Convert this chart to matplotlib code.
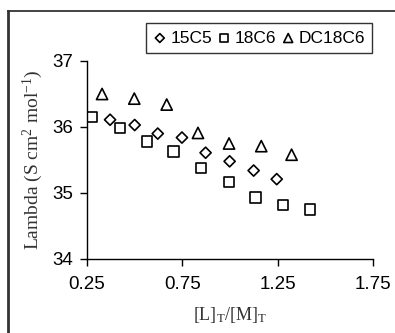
import matplotlib
matplotlib.use("Agg")
import matplotlib.pyplot as plt
from matplotlib.lines import Line2D

x_15c5 = [0.371, 0.500, 0.621, 0.748, 0.872, 0.998, 1.124, 1.245]
y_15c5 = [36.11, 36.03, 35.90, 35.84, 35.61, 35.48, 35.34, 35.21]
x_18c6 = [0.278, 0.423, 0.565, 0.703, 0.849, 0.993, 1.133, 1.278, 1.418]
y_18c6 = [36.15, 35.98, 35.78, 35.63, 35.38, 35.17, 34.93, 34.82, 34.75]
x_dc = [0.329, 0.498, 0.668, 0.832, 0.995, 1.164, 1.323]
y_dc = [36.50, 36.43, 36.34, 35.91, 35.75, 35.71, 35.58]
xticks = [0.25, 0.75, 1.25, 1.75]
xticklabels = ["0.25", "0.75", "1.25", "1.75"]
yticks = [34, 35, 36, 37]

plt.rcParams['font.family'] = ['Liberation Sans', 'DejaVu Sans']
plt.rcParams['mathtext.fontset'] = 'custom'
plt.rcParams['mathtext.rm'] = 'Liberation Serif'
plt.rcParams['mathtext.it'] = 'Liberation Serif:italic'
plt.rcParams['mathtext.bf'] = 'Liberation Serif:bold'

fig = plt.figure(figsize=(3.95, 3.33), dpi=100)
ax = fig.add_axes([87/395, 1-259/333, (373-87)/395, (259-61)/333])

kw = dict(facecolor='none', edgecolors='black', linewidths=1.2, zorder=3)
h1 = ax.scatter(x_15c5, y_15c5, marker='D', s=32, label='15C5', **kw)
h2 = ax.scatter(x_18c6, y_18c6, marker='s', s=55, label='18C6', **kw)
h3 = ax.scatter(x_dc, y_dc, marker='^', s=65, label='DC18C6', **kw)

ax.set_xlim(0.25, 1.75)
ax.set_ylim(34, 37)
ax.set_xticks(xticks)
ax.set_xticklabels(xticklabels)
ax.set_yticks(yticks)
ax.tick_params(direction='out', length=5, width=1, labelsize=13.5, pad=5, colors='black')
ax.tick_params(axis='x', pad=7)
for s in ['top', 'right']:
    ax.spines[s].set_visible(False)
for s in ['left', 'bottom']:
    ax.spines[s].set_linewidth(1)

ax.set_ylabel(r'Lambda (S cm$^{2}$ mol$^{\mathrm{-1}}$)', family='Liberation Serif', fontsize=14,
              color='#333333', labelpad=5)
ax.set_xlabel(r'[L]$_{\mathrm{T}}$/[M]$_{\mathrm{T}}$', family='Liberation Serif', fontsize=13,
              color='#333333', labelpad=9)

leg = fig.legend(handles=[h1, h2, h3], loc='center', bbox_to_anchor=(259/395, 1-38/333), ncol=3,
                 frameon=True, fancybox=False, edgecolor='black', fontsize=12.5,
                 handletextpad=0.2, columnspacing=0.3, handlelength=0.8, borderpad=0.4,
                 borderaxespad=0, markerscale=0.8)
leg.get_frame().set_linewidth(1)

fig.add_artist(Line2D([8/395, 1], [1-11/333, 1-11/333], color='#222222', lw=1.2, transform=fig.transFigure))
fig.add_artist(Line2D([8/395, 8/395], [0, 1-11/333], color='#333333', lw=2, transform=fig.transFigure))

fig.savefig('out.png', dpi=100)
